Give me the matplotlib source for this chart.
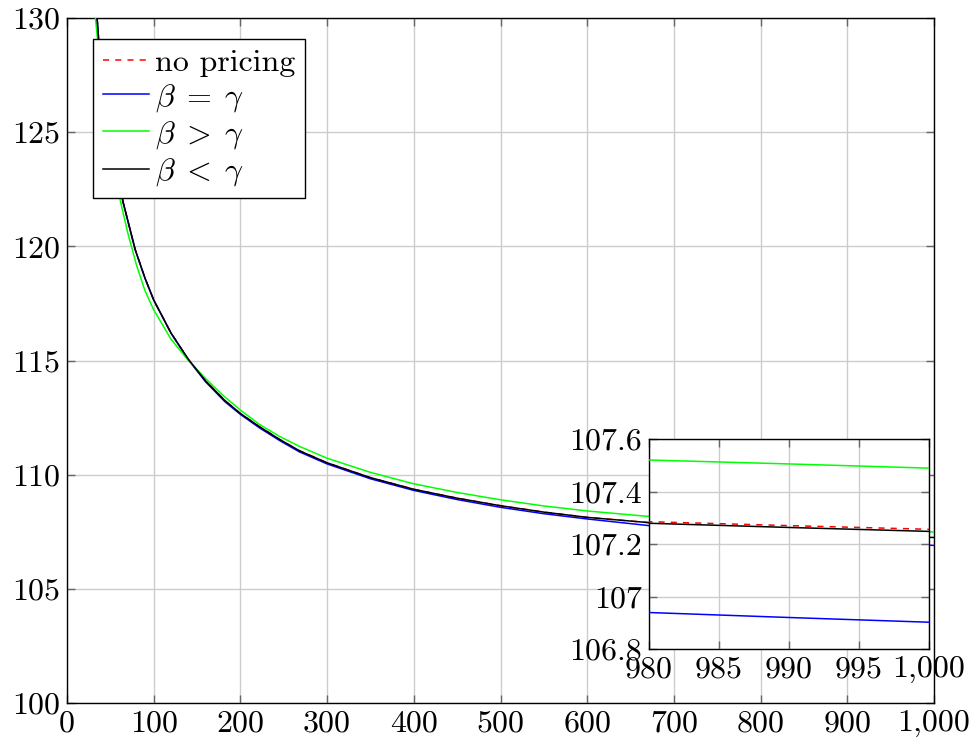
import matplotlib
matplotlib.use("Agg")
import matplotlib.pyplot as plt
from matplotlib.ticker import FuncFormatter

plt.rcParams['font.family'] = ['cmr10', 'DejaVu Serif']
plt.rcParams['mathtext.fontset'] = 'cm'
plt.rcParams['axes.formatter.use_mathtext'] = True

# ---- data ----
x_black = [34.7, 36.5, 45, 55, 64.6, 78.7, 90, 100, 120, 140, 160, 182, 200, 222, 245, 268, 300, 350, 400, 450, 500, 550, 600, 671, 980, 990, 1000]
y_black = [130.0, 129.05, 126.3, 123.8, 121.95, 119.85, 118.6, 117.65, 116.2, 115.05, 114.1, 113.25, 112.68, 112.1, 111.55, 111.05, 110.52, 109.87, 109.36, 108.97, 108.64, 108.36, 108.13, 107.9, 107.279, 107.263, 107.248]

x_red = x_black
y_red = [130.0, 129.05, 126.3, 123.8, 121.95, 119.85, 118.6, 117.65, 116.2, 115.05, 114.1, 113.25, 112.68, 112.1, 111.55, 111.05, 110.52, 109.87, 109.36, 108.97, 108.64, 108.36, 108.13, 107.9, 107.285, 107.27, 107.256]

x_blue = x_black
y_blue = [130.0, 129.05, 126.3, 123.8, 121.95, 119.85, 118.6, 117.65, 116.2, 115.03, 114.06, 113.2, 112.64, 112.05, 111.5, 111.0, 110.47, 109.82, 109.31, 108.91, 108.57, 108.29, 108.06, 107.77, 106.939, 106.92, 106.902]

x_green = [32.8, 35.3, 45, 55, 61.5, 70, 80, 90, 100, 120, 140, 160, 180, 200, 222, 245, 268, 300, 350, 400, 450, 500, 550, 600, 671, 980, 990, 1000]
y_green = [130.0, 129.05, 125.8, 123.3, 122.0, 120.6, 119.2, 118.05, 117.22, 115.93, 115.0, 114.2, 113.47, 112.83, 112.2, 111.68, 111.24, 110.72, 110.1, 109.6, 109.22, 108.9, 108.63, 108.41, 108.17, 107.52, 107.505, 107.489]

series_labels = ['no pricing', r'$\beta\;=\;\gamma$', r'$\beta\;>\;\gamma$', r'$\beta\;<\;\gamma$']

main_xticks = [0, 100, 200, 300, 400, 500, 600, 700, 800, 900, 1000]
main_yticks = [100, 105, 110, 115, 120, 125, 130]
inset_xticks = [980, 985, 990, 995, 1000]
inset_yticks = [106.8, 107.0, 107.2, 107.4, 107.6]
inset_ylabels = ['106.8', '107', '107.2', '107.4', '107.6']

FS = 23
GRID = '#cccccc'
TICKC = '0.4'

fig = plt.figure(figsize=(9.75, 7.45), dpi=100)
ax = fig.add_axes([67/975, 1-703/745, (934-67)/975, (703-18)/745])


def style(a):
    a.grid(True, color=GRID, lw=1.0)
    a.set_axisbelow(True)
    a.tick_params(direction='in', length=6, width=1, color=TICKC, labelsize=FS,
                  top=True, right=True, pad=5)
    for s in a.spines.values():
        s.set_color('black')
        s.set_linewidth(1.0)


def draw(a):
    a.plot(x_red, y_red, color='red', lw=1.1, ls=(0, (4, 4)), label=series_labels[0], zorder=3)
    a.plot(x_blue, y_blue, color='blue', lw=1.1, label=series_labels[1], zorder=3)
    a.plot(x_green, y_green, color='#00ff00', lw=1.1, label=series_labels[2], zorder=3)
    a.plot(x_black, y_black, color='black', lw=1.1, label=series_labels[3], zorder=3)


draw(ax)
style(ax)
ax.set_xlim(0, 1000)
ax.set_ylim(100, 130)
ax.set_xticks(main_xticks)
ax.set_yticks(main_yticks)
ax.xaxis.set_major_formatter(FuncFormatter(lambda v, p: f"{int(v):,}"))
ax.yaxis.set_major_formatter(FuncFormatter(lambda v, p: f"{int(v)}"))

leg = ax.legend(loc='upper left', bbox_to_anchor=((93-67)/867, (703-39)/685), borderaxespad=0,
                fontsize=FS, frameon=True, fancybox=False, framealpha=1, edgecolor='black',
                handlelength=1.45, handletextpad=0.2, labelspacing=0.16, borderpad=0.3)
leg.get_frame().set_linewidth(1.0)

# inset
ins = fig.add_axes([649/975, 1-649/745, (929-649)/975, (649-439)/745])
ins.set_facecolor('white')
draw(ins)
style(ins)
ins.set_xlim(980, 1000)
ins.set_ylim(106.8, 107.6)
ins.set_xticks(inset_xticks)
ins.xaxis.set_major_formatter(FuncFormatter(lambda v, p: f"{int(round(v)):,}"))
ins.set_yticks(inset_yticks)
ins.set_yticklabels(inset_ylabels)

fig.savefig('out.png', dpi=100)
